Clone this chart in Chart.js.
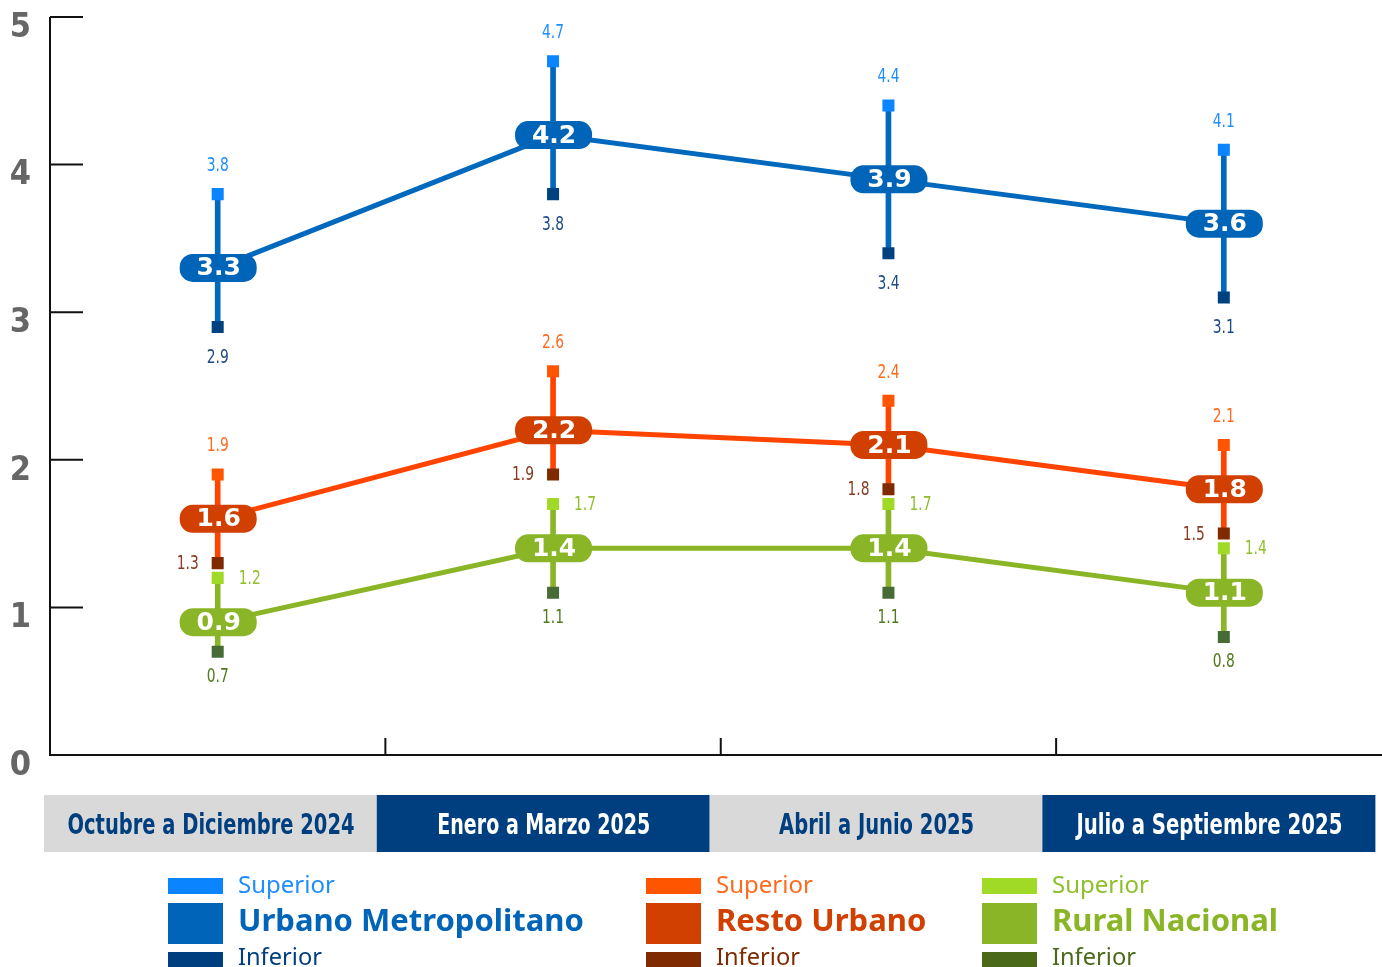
<!DOCTYPE html>
<html>
<head>
<meta charset="utf-8">
<script src="https://cdn.jsdelivr.net/npm/chart.js@4.4.1/dist/chart.umd.min.js"></script>
<style>
  html, body { margin: 0; padding: 0; background: #fff; overflow: hidden; }
  #wrap { width: 1400px; height: 967px; }
</style>
</head>
<body>
<div id="wrap"><canvas id="chart" width="1400" height="967"></canvas></div>
<script>
const periods = ['Octubre a Diciembre 2024', 'Enero a Marzo 2025', 'Abril a Junio 2025', 'Julio a Septiembre 2025'];
const yTicks = [0, 1, 2, 3, 4, 5];

const metro_main = [3.3, 4.2, 3.9, 3.6];
const metro_sup = [3.8, 4.7, 4.4, 4.1];
const metro_inf = [2.9, 3.8, 3.4, 3.1];

const resto_main = [1.6, 2.2, 2.1, 1.8];
const resto_sup = [1.9, 2.6, 2.4, 2.1];
const resto_inf = [1.3, 1.9, 1.8, 1.5];

const rural_main = [0.9, 1.4, 1.4, 1.1];
const rural_sup = [1.2, 1.7, 1.7, 1.4];
const rural_inf = [0.7, 1.1, 1.1, 0.8];

const series = [
  { name: 'Urbano Metropolitano', main: metro_main, sup: metro_sup, inf: metro_inf,
    line: '#0068bd', box: '#0064b8', supC: '#0a84ff', infC: '#00427f',
    supTxt: '#1e8eff', infTxt: '#1d4a86', legInf: '#003f7f',
    supPos: 'above', infPos: 'below', legX: 168, nameW: 348 },
  { name: 'Resto Urbano', main: resto_main, sup: resto_sup, inf: resto_inf,
    line: '#ff4400', box: '#d14000', supC: '#ff5500', infC: '#7f2a00',
    supTxt: '#ff6a1f', infTxt: '#8a3a1e', legInf: '#7f2a00',
    supPos: 'above', infPos: 'left', legX: 646, nameW: 213 },
  { name: 'Rural Nacional', main: rural_main, sup: rural_sup, inf: rural_inf,
    line: '#8ab526', box: '#8ab526', supC: '#a0d926', infC: '#466b35',
    supTxt: '#8fbf2a', infTxt: '#4f7a1c', legInf: '#4a6a1a',
    supPos: 'right', infPos: 'below', legX: 982, nameW: 228 }
];

const periodW = [287, 213, 195, 266];
const COND = '"DejaVu Sans Condensed", "DejaVu Sans", sans-serif';

const datasets = [];
series.forEach(s => {
  datasets.push({
    type: 'bar',
    data: s.inf.map((v, i) => [v, s.sup[i]]),
    backgroundColor: s.line,
    barThickness: 5,
    grouped: false,
    order: 3
  });
  datasets.push({
    type: 'line',
    data: s.main,
    borderColor: s.line,
    borderWidth: 5,
    pointRadius: 0,
    tension: 0,
    order: 2
  });
  datasets.push({
    type: 'line',
    data: s.sup,
    showLine: false,
    pointStyle: 'rect',
    pointRadius: 8.5,
    pointBorderWidth: 0,
    pointBackgroundColor: s.supC,
    order: 1
  });
  datasets.push({
    type: 'line',
    data: s.inf,
    showLine: false,
    pointStyle: 'rect',
    pointRadius: 8.5,
    pointBorderWidth: 0,
    pointBackgroundColor: s.infC,
    order: 1
  });
});

function roundRect(ctx, x, y, w, h, r) {
  ctx.beginPath();
  ctx.moveTo(x + r, y);
  ctx.arcTo(x + w, y, x + w, y + h, r);
  ctx.arcTo(x + w, y + h, x, y + h, r);
  ctx.arcTo(x, y + h, x, y, r);
  ctx.arcTo(x, y, x + w, y, r);
  ctx.closePath();
}

const decor = {
  id: 'decor',
  beforeDatasetsDraw(chart) {
    const ctx = chart.ctx;
    const x = chart.scales.x, y = chart.scales.y;
    const left = chart.chartArea.left, bottom = y.getPixelForValue(0);
    ctx.save();
    ctx.strokeStyle = '#111';
    ctx.lineWidth = 2;
    ctx.beginPath();
    ctx.moveTo(left, y.getPixelForValue(5));
    ctx.lineTo(left, bottom);
    ctx.lineTo(1382, bottom);
    yTicks.forEach(t => {
      const py = y.getPixelForValue(t);
      ctx.moveTo(left, py);
      ctx.lineTo(left + 33, py);
    });
    for (let i = 0; i < periods.length - 1; i++) {
      const px = (x.getPixelForValue(i) + x.getPixelForValue(i + 1)) / 2;
      ctx.moveTo(px, bottom);
      ctx.lineTo(px, bottom - 17);
    }
    ctx.stroke();
    ctx.restore();
  },
  afterDatasetsDraw(chart) {
    const ctx = chart.ctx;
    ctx.save();
    series.forEach((s, si) => {
      const mainMeta = chart.getDatasetMeta(si * 4 + 1);
      const supMeta = chart.getDatasetMeta(si * 4 + 2);
      const infMeta = chart.getDatasetMeta(si * 4 + 3);
      ctx.font = '19px ' + COND;
      ctx.textBaseline = 'middle';
      s.sup.forEach((v, i) => {
        const p = supMeta.data[i];
        ctx.fillStyle = s.supTxt;
        if (s.supPos === 'above') { ctx.textAlign = 'center'; ctx.fillText(v.toFixed(1), p.x, p.y - 28, 22); }
        else { ctx.textAlign = 'left'; ctx.fillText(v.toFixed(1), p.x + 21, p.y + 1, 22); }
      });
      s.inf.forEach((v, i) => {
        const p = infMeta.data[i];
        ctx.fillStyle = s.infTxt;
        if (s.infPos === 'below') { ctx.textAlign = 'center'; ctx.fillText(v.toFixed(1), p.x, p.y + (si === 0 ? 31 : 25), 22); }
        else { ctx.textAlign = 'right'; ctx.fillText(v.toFixed(1), p.x - 19, p.y + 1, 22); }
      });
      s.main.forEach((v, i) => {
        const p = mainMeta.data[i];
        ctx.fillStyle = s.box;
        roundRect(ctx, p.x - 38, p.y - 14, 77, 28, 13);
        ctx.fill();
        ctx.fillStyle = '#fff';
        ctx.font = 'bold 25px "DejaVu Sans", sans-serif';
        ctx.textAlign = 'center';
        ctx.fillText(v.toFixed(1), p.x + 1, p.y + 1, 46);
      });
    });
    ctx.restore();
  },
  afterDraw(chart) {
    const ctx = chart.ctx;
    ctx.save();
    // period boxes
    periods.forEach((p, i) => {
      const bx = 44 + i * 332.8;
      ctx.fillStyle = i % 2 === 0 ? '#d9d9d9' : '#003f7f';
      ctx.fillRect(bx, 795, 333, 57);
      ctx.fillStyle = i % 2 === 0 ? '#003f7f' : '#ffffff';
      ctx.font = 'bold 29px ' + COND;
      ctx.textAlign = 'center';
      ctx.textBaseline = 'middle';
      ctx.fillText(p, bx + 167, 826, periodW[i]);
    });
    // legend
    series.forEach(s => {
      const lx = s.legX, tx = s.legX + 70;
      ctx.fillStyle = s.supC; ctx.fillRect(lx, 878, 55, 16);
      ctx.fillStyle = s.box; ctx.fillRect(lx, 903, 55, 41);
      ctx.fillStyle = s.legInf; ctx.fillRect(lx, 952, 55, 16);
      ctx.textAlign = 'left';
      ctx.textBaseline = 'middle';
      ctx.font = '24px "Noto Sans", sans-serif';
      ctx.fillStyle = s.supTxt; ctx.fillText('Superior', tx, 886, 100);
      ctx.fillStyle = s.legInf; ctx.fillText('Inferior', tx, 958, 84);
      ctx.font = 'bold 31px "Noto Sans", sans-serif';
      ctx.fillStyle = s.box;
      ctx.fillText(s.name, tx, 922, s.nameW);
    });
    ctx.restore();
  }
};

const chart = new Chart(document.getElementById('chart'), {
  type: 'bar',
  data: { labels: periods, datasets: datasets },
  options: {
    responsive: false,
    animation: false,
    layout: { padding: { top: 17, bottom: 212, left: 0, right: 3 } },
    plugins: { legend: { display: false }, tooltip: { enabled: false } },
    scales: {
      x: {
        offset: true,
        grid: { display: false, drawTicks: false },
        border: { display: false },
        ticks: { display: false },
        afterFit(scale) { scale.height = 0; scale.paddingLeft = 0; scale.paddingRight = 0; }
      },
      y: {
        min: 0,
        max: 5,
        grid: { display: false, drawTicks: false },
        border: { display: false },
        afterFit(scale) { scale.width = 50; scale.paddingTop = 0; scale.paddingBottom = 0; },
        ticks: {
          stepSize: 1,
          padding: 19,
          crossAlign: 'center',
          labelOffset: 11,
          color: '#666',
          font: { family: COND, weight: 'bold', size: 34 }
        }
      }
    }
  },
  plugins: [decor]
});
</script>
</body>
</html>
